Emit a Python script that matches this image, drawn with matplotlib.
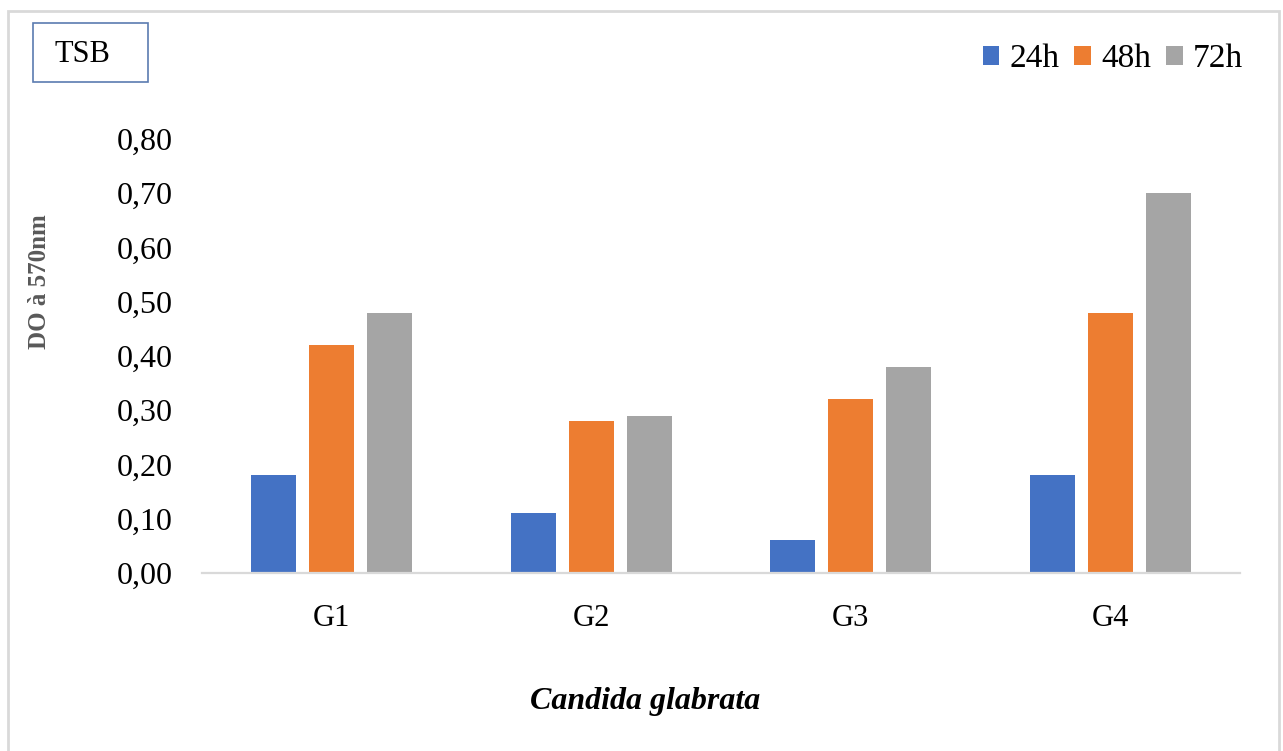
import numpy as np
import matplotlib.pyplot as plt
from matplotlib.patches import Rectangle

groups = ['G1', 'G2', 'G3', 'G4']
series = ['24h', '48h', '72h']
od_24h = [0.18, 0.11, 0.06, 0.18]
od_48h = [0.42, 0.28, 0.32, 0.48]
od_72h = [0.48, 0.29, 0.38, 0.70]
yticks = [0.0, 0.1, 0.2, 0.3, 0.4, 0.5, 0.6, 0.7, 0.8]

colors = ['#4472C4', '#ED7D31', '#A5A5A5']
W, H = 1283, 751

plt.rcParams['font.family'] = ['Liberation Serif', 'DejaVu Serif']

fig = plt.figure(figsize=(W / 100, H / 100), dpi=100)
ax = fig.add_axes([202 / W, 1 - 573 / H, (1240 - 202) / W, (573 - 139) / H])

x = np.arange(len(groups))
width = 0.173
step = 0.2235
for i, (vals, name) in enumerate(zip([od_24h, od_48h, od_72h], series)):
    ax.bar(x + (i - 1) * step, vals, width, color=colors[i], label=name, zorder=2)

ax.set_xlim(-0.5, len(groups) - 0.5)
ax.set_ylim(0, 0.8)
ax.set_yticks(yticks)
ax.set_yticklabels([f'{v:.2f}'.replace('.', ',') for v in yticks], fontsize=23)
ax.set_xticks(x)
ax.set_xticklabels(groups, fontsize=22)
ax.tick_params(axis='y', length=0, pad=21)
ax.tick_params(axis='x', length=0, pad=22)
for s in ['top', 'right', 'left']:
    ax.spines[s].set_visible(False)
ax.spines['bottom'].set_color('#D9D9D9')
ax.spines['bottom'].set_linewidth(1.6)
ax.spines['bottom'].set_zorder(3)

fig.text(40 / W, 1 - 282 / H, 'DO à 570nm', rotation=90, fontsize=18,
         fontweight='bold', color='#595959', ha='center', va='center')
fig.text(645 / W, 1 - 701 / H, 'Candida glabrata', fontsize=23,
         fontweight='bold', style='italic', ha='center', va='center')

# outer chart frame
fig.patches.append(Rectangle((8 / W, -0.02), (1279 - 8) / W, 1.02 - 11 / H,
                             transform=fig.transFigure, fill=False,
                             edgecolor='#D9D9D9', linewidth=2))
# TSB label box
fig.patches.append(Rectangle((33 / W, 1 - 82 / H), (148 - 33) / W, (82 - 23) / H,
                             transform=fig.transFigure, fill=False,
                             edgecolor='#5B7BB0', linewidth=1.2))
fig.text(82 / W, 1 - 55 / H, 'TSB', fontsize=22, ha='center', va='center')

fig.legend(loc='center right', bbox_to_anchor=(1256 / W, 1 - 59 / H), ncol=3,
           frameon=False, fontsize=24, handlelength=0.5, handleheight=0.5,
           handletextpad=0.3, columnspacing=0.45, borderaxespad=0)

fig.savefig('out.png', dpi=100)
